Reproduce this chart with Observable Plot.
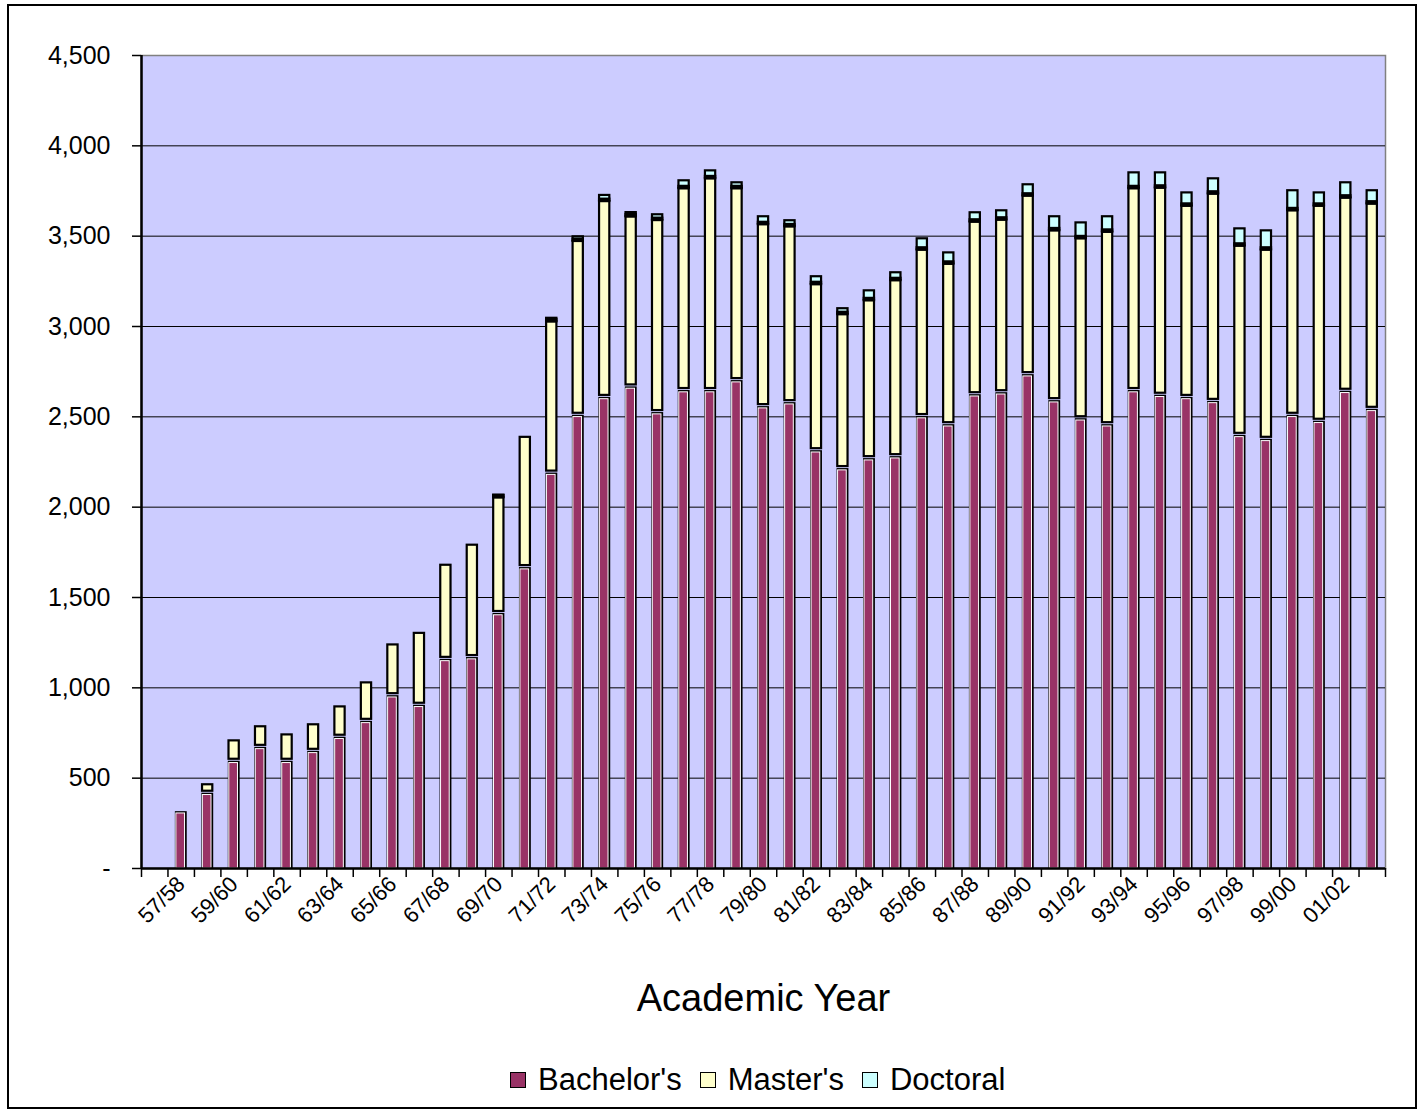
<!DOCTYPE html>
<html>
<head>
<meta charset="utf-8">
<script src="https://cdn.jsdelivr.net/npm/d3@7"></script>
<script src="https://cdn.jsdelivr.net/npm/@observablehq/plot@0.6"></script>
<style>
  body { margin: 0; background: #fff; font-family: "Liberation Sans", Arial, sans-serif; }
  #wrap { position: relative; width: 1424px; height: 1112px; overflow: hidden; }
  #frame { position: absolute; left: 7px; top: 4px; width: 1406px; height: 1101px; border: 2px solid #000; pointer-events: none; }
  #chart { position: absolute; left: 0; top: 0; }
  #legend { position: absolute; top: 1062px; left: 510px; display: flex; align-items: center; font-size: 31px; color: #000; white-space: nowrap; }
  #legend .item { display: flex; align-items: center; margin-right: 18px; }
  #legend .sw { width: 14px; height: 14px; border: 1.5px solid #000; margin-right: 12px; }
</style>
</head>
<body>
<div id="wrap">
  <div id="chart"></div>
  <div id="legend"></div>
  <div id="frame"></div>
</div>
<script>
// ---- data ----
const years = ["57/58","58/59","59/60","60/61","61/62","62/63","63/64","64/65","65/66","66/67",
  "67/68","68/69","69/70","70/71","71/72","72/73","73/74","74/75","75/76","76/77",
  "77/78","78/79","79/80","80/81","81/82","82/83","83/84","84/85","85/86","86/87",
  "87/88","88/89","89/90","90/91","91/92","92/93","93/94","94/95","95/96","96/97",
  "97/98","98/99","99/00","00/01","01/02","02/03"];
const bachelors = [308,410,587,664,587,642,720,808,950,897,
  1151,1161,1405,1659,2182,2502,2601,2659,2517,2639,
  2639,2694,2550,2572,2306,2207,2262,2273,2495,2450,
  2616,2627,2727,2583,2483,2450,2639,2613,2601,2579,
  2391,2369,2502,2469,2635,2535];
const masters = [0,59,125,126,158,159,180,225,293,410,
  533,634,652,733,849,974,1096,953,1075,1129,
  1184,1074,1019,985,931,864,886,986,933,900,
  967,967,1000,952,1008,1077,1129,1158,1070,1159,
  1059,1059,1144,1202,1081,1148];
const doctoral = [0,0,0,0,0,0,0,0,0,0,
  0,0,15,0,20,26,34,24,32,44,
  44,33,44,34,44,33,55,44,63,63,
  52,52,63,78,88,86,88,85,74,85,
  96,107,111,74,85,74];
const yTicks = [0,500,1000,1500,2000,2500,3000,3500,4000,4500];
const seriesNames = ["Bachelor's","Master's","Doctoral"];
const seriesColors = ["#993366","#FFFFCC","#CCFFFF"];

// ---- table ----
const rows = years.map((yr, k) => ({i: k + 1, year: yr, b: bachelors[k], m: masters[k], d: doctoral[k]}));
const nBands = years.length + 1;

const W = 1424, H = 1040, plotBottom = 868;
const x1 = d => d.i, x2 = d => d.i + 1;

const chart = Plot.plot({
  width: W,
  height: H,
  marginLeft: 141,
  marginRight: 39,
  marginTop: 55,
  marginBottom: H - plotBottom,
  x: {type: "linear", domain: [0, nBands]},
  y: {domain: [0, 4500]},
  style: {fontFamily: "'Liberation Sans', Arial, sans-serif", background: "transparent", color: "#000"},
  marks: [
    Plot.frame({fill: "#CCCCFF", stroke: "#808080", strokeWidth: 1.5}),
    Plot.gridY(yTicks.filter(v => v > 0 && v < 4500), {stroke: "#000", strokeOpacity: 1, strokeWidth: 1}),
    // bachelor outline
    Plot.rect(rows, {x1, x2, y1: 0, y2: d => d.b, fill: "#000", insetLeft: 7.4, insetRight: 7.2, insetTop: -1.2}),
    // bachelor fill with white highlight
    Plot.rect(rows, {x1, x2, y1: 0, y2: d => d.b, fill: seriesColors[0], stroke: "#fff", strokeWidth: 1, insetLeft: 8.4, insetRight: 9.4, insetTop: 0.6}),
    // master's
    Plot.rect(rows.filter(d => d.m > 0), {x1, x2, y1: d => d.b, y2: d => d.b + d.m, fill: seriesColors[1], stroke: "#000", strokeWidth: 2.2, insetLeft: 8.1, insetRight: 8.1, insetBottom: 3.2, insetTop: 1}),
    // doctoral
    Plot.rect(rows.filter(d => d.d > 0), {x1, x2, y1: d => d.b + d.m, y2: d => d.b + d.m + d.d, fill: seriesColors[2], stroke: "#000", strokeWidth: 2.2, insetLeft: 8.1, insetRight: 8.1, insetTop: 1}),
    // thick boundary between master's and doctoral
    Plot.rect(rows.filter(d => d.d > 0), {x1, x2, y1: d => d.b + d.m, y2: d => d.b + d.m, fill: "#000", insetLeft: 7.0, insetRight: 7.0, insetTop: -2.5, insetBottom: -2}),
    // axis lines
    Plot.ruleX([0], {stroke: "#000", strokeWidth: 2.5}),
    Plot.ruleY([0], {stroke: "#000", strokeWidth: 2.5}),
    Plot.axisY({ticks: yTicks, tickFormat: v => v === 0 ? "-" : d3.format(",")(v), tickSize: 9, tickPadding: 22, fontSize: 25, stroke: "#000", strokeWidth: 1.5, label: null}),
    Plot.axisX({ticks: d3.range(0, nBands + 1), tickFormat: () => "", tickSize: 9, stroke: "#000", strokeWidth: 1.5, label: null}),
    Plot.axisX({ticks: d3.range(1, nBands, 2).map(i => i + 0.5), tickFormat: v => years[Math.round(v - 1.5)], tickSize: 0, tickPadding: 12, tickRotate: -45, fontSize: 22, label: null}),
    Plot.text(["Academic Year"], {frameAnchor: "bottom", dy: 142, fontSize: 38, fill: "#000"})
  ]
});
document.getElementById("chart").appendChild(chart);

// ---- legend ----
const lg = document.getElementById("legend");
seriesNames.forEach((n, k) => {
  const it = document.createElement("div");
  it.className = "item";
  const sw = document.createElement("div");
  sw.className = "sw";
  sw.style.background = seriesColors[k];
  const tx = document.createElement("span");
  tx.textContent = n;
  it.appendChild(sw); it.appendChild(tx);
  lg.appendChild(it);
});
</script>
</body>
</html>
